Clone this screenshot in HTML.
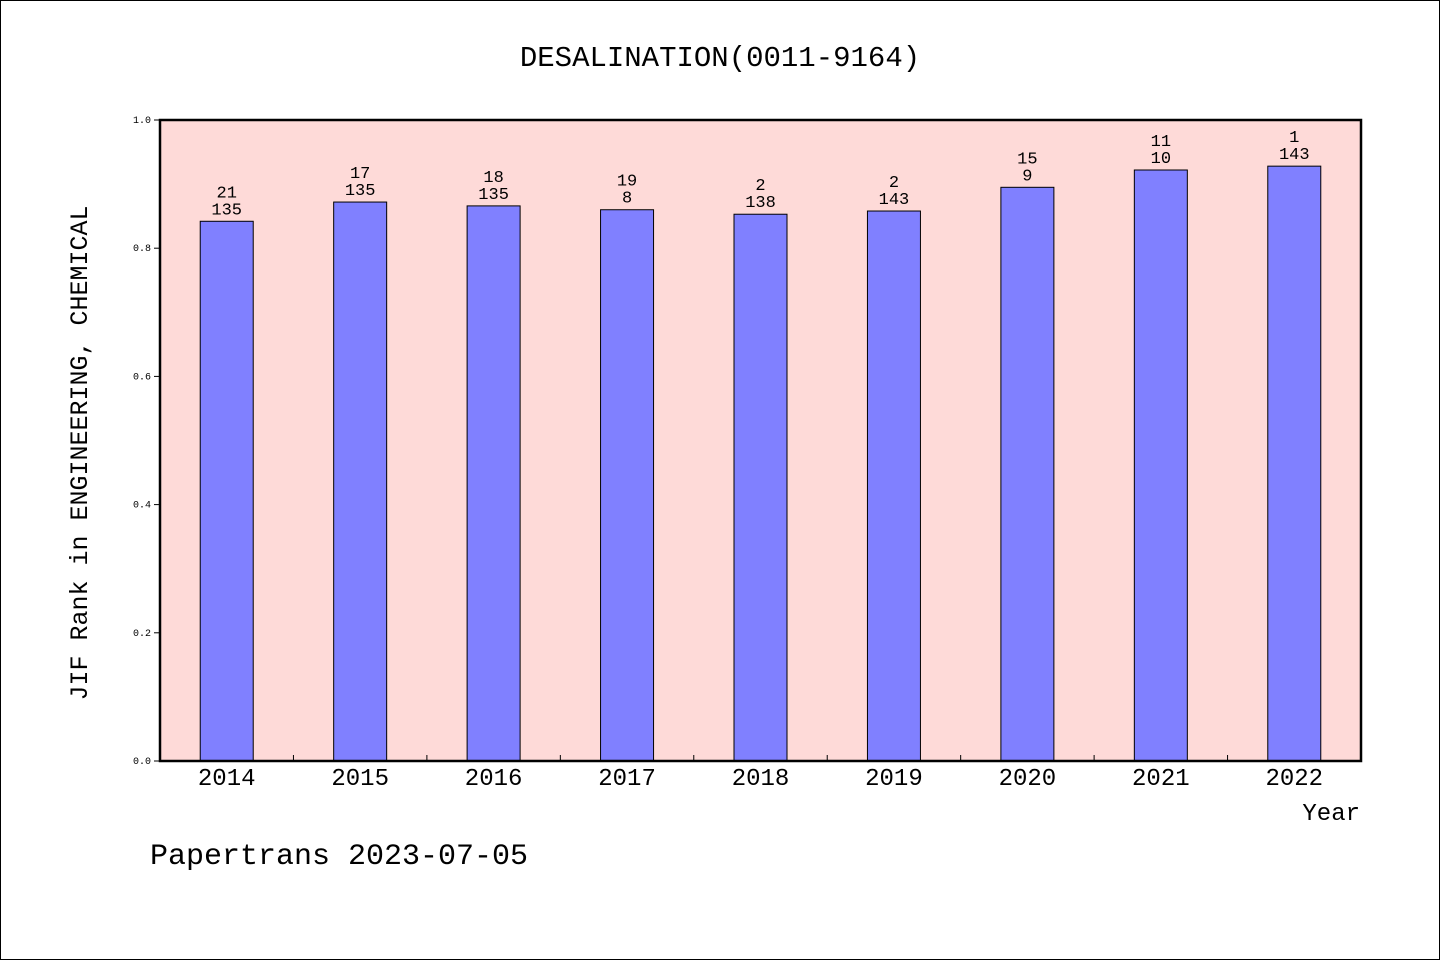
<!DOCTYPE html>
<html><head><meta charset="utf-8"><style>
html,body{margin:0;padding:0;background:#fff}
svg{display:block}
text{font-family:"Liberation Mono","WenQuanYi Zen Hei",monospace;fill:#000}
</style></head><body>
<svg width="1440" height="960">
<rect x="0.5" y="0.5" width="1439" height="959" fill="#fff" stroke="#000"/>
<text x="720" y="66" text-anchor="middle" font-size="29">DESALINATION(0011-9164)</text>
<rect x="160" y="120" width="1201" height="641" fill="#fedad8"/>
<g id="bars"></g>
<rect x="160" y="120" width="1201" height="641" fill="none" stroke="#000" stroke-width="2.5"/>
<g id="axes"></g>
<text x="1360" y="820" text-anchor="end" font-size="24">Year</text>
<text transform="translate(87,453) rotate(-90)" text-anchor="middle" font-size="25">JIF Rank in ENGINEERING, CHEMICAL</text>
<text x="150" y="864" font-size="30">Papertrans 2023-07-05</text>
</svg>
<script>
const years=["2014","2015","2016","2017","2018","2019","2020","2021","2022"];
const values=[0.842,0.872,0.866,0.860,0.853,0.858,0.895,0.922,0.928];
const topLabels=["21","17","18","19","2","2","15","11","1"];
const bottomLabels=["135","135","135","8","138","143","9","10","143"];
const yTicks=[0,0.2,0.4,0.6,0.8,1.0];
const NS="http://www.w3.org/2000/svg";
const X0=160,W=1201,Y0=761,H=641;
const slot=W/years.length;
const xc=i=>X0+slot*(i+0.5);
const y=v=>Y0-v*H;
function mk(t,a,p){const e=document.createElementNS(NS,t);for(const k in a)e.setAttribute(k,a[k]);p.appendChild(e);return e;}
const bars=document.getElementById('bars'),axes=document.getElementById('axes');
values.forEach((v,i)=>{
 const r=mk('rect',{x:xc(i)-26.5,y:y(v),width:53,height:Y0-y(v),fill:'#8080ff',stroke:'#000','stroke-width':1},bars);
 
 
 const t1=mk('text',{x:xc(i),y:y(v)-24,'text-anchor':'middle','font-size':17},bars);t1.textContent=topLabels[i];
 
 
 const t2=mk('text',{x:xc(i),y:y(v)-7,'text-anchor':'middle','font-size':17},bars);t2.textContent=bottomLabels[i];
 
 
 const xl=mk('text',{x:xc(i),y:785,'text-anchor':'middle','font-size':24},axes);xl.textContent=years[i];
 
 
 if(i>0){const tk=mk('line',{x1:X0+slot*i,x2:X0+slot*i,y1:Y0,y2:Y0-6,stroke:'#000'},axes);
 
 }
});
yTicks.forEach(v=>{
 const tk=mk('line',{x1:X0-6,x2:X0,y1:y(v),y2:y(v),stroke:'#000'},axes);
 
 
 const tl=mk('text',{x:X0-9,y:y(v)+3,'text-anchor':'end','font-size':10},axes);tl.textContent=v.toFixed(1);
 
 
});
</script>
</body></html>
